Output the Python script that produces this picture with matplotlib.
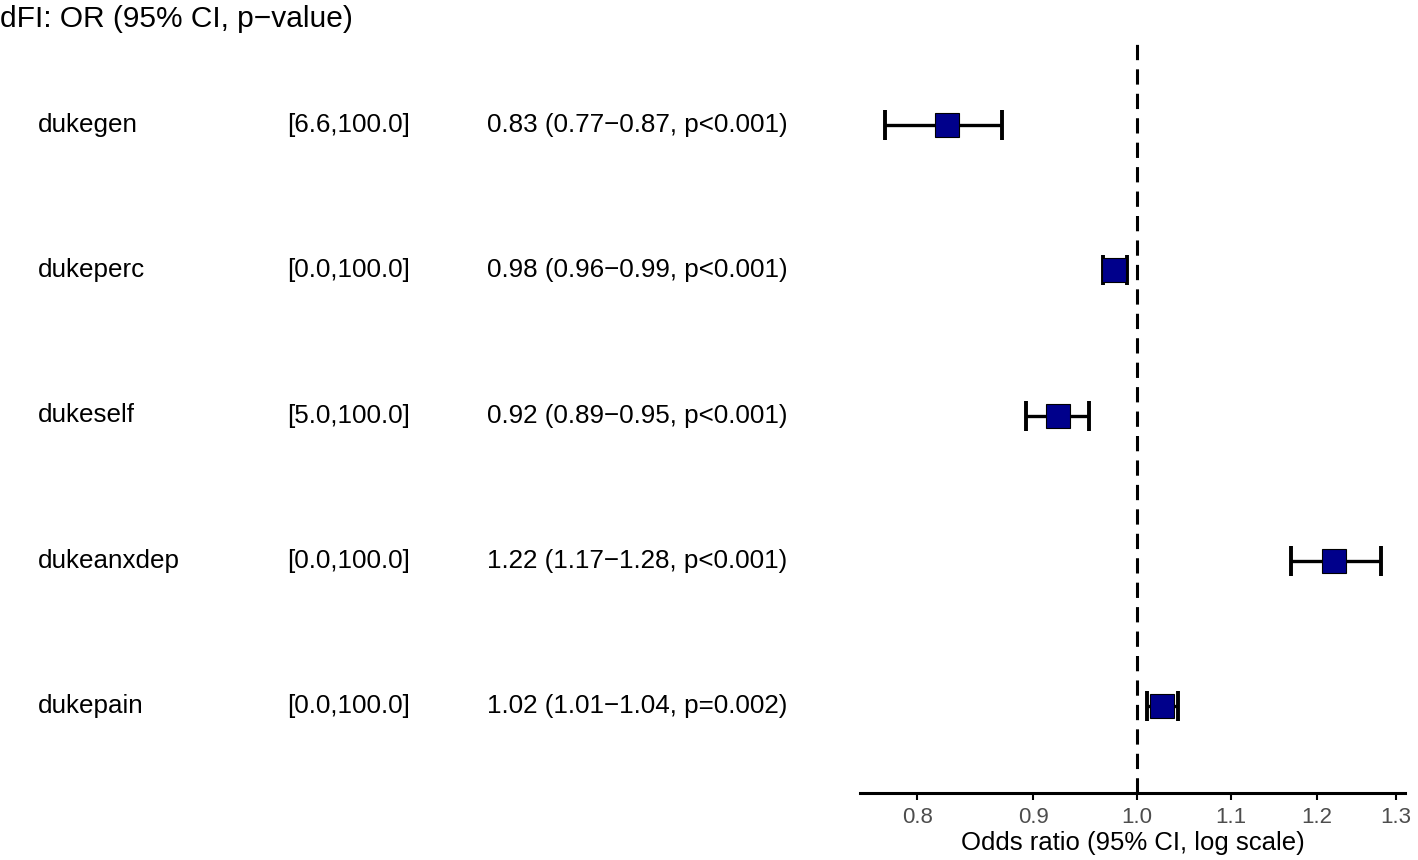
import numpy as np
import matplotlib.pyplot as plt
from matplotlib import transforms

plt.rcParams['font.family'] = ['Liberation Sans', 'DejaVu Sans']

# ── Data (point estimates, labels as printed) ───────────────────────────
variables = ['dukegen', 'dukeperc', 'dukeself', 'dukeanxdep', 'dukepain']
ranges = ['[6.6,100.0]', '[0.0,100.0]', '[5.0,100.0]', '[0.0,100.0]', '[0.0,100.0]']
odds = [0.825, 0.977, 0.923, 1.221, 1.026]
ci_low = [0.774, 0.966, 0.893, 1.169, 1.010]
ci_high = [0.872, 0.990, 0.952, 1.281, 1.042]
labels = ['0.83 (0.77\u22120.87, p<0.001)',
          '0.98 (0.96\u22120.99, p<0.001)',
          '0.92 (0.89\u22120.95, p<0.001)',
          '1.22 (1.17\u22121.28, p<0.001)',
          '1.02 (1.01\u22121.04, p=0.002)']
xticks = [0.8, 0.9, 1.0, 1.1, 1.2, 1.3]

rows = np.arange(len(variables), 0, -1)

# ── Figure ─────────────────────────────────────────────────────────────
fig = plt.figure(figsize=(14.18, 8.6), dpi=100)
ax = fig.add_axes([860 / 1418, 1 - 793 / 860, 545 / 1418, 755 / 860])

odds_a = np.array(odds)
err = [odds_a - np.array(ci_low), np.array(ci_high) - odds_a]
ax.errorbar(odds, rows, xerr=err, fmt='none', ecolor='black',
            elinewidth=2.4, capsize=10.5, capthick=2.8, zorder=2)
ax.plot(odds, rows, 's', markersize=17, markerfacecolor='#00008B',
        markeredgecolor='black', markeredgewidth=0.8, zorder=3)
ax.axvline(1.0, color='black', linestyle=(0, (5, 3)), linewidth=2.2, zorder=1)

ax.set_xscale('log')
ax.set_xlim(0.755, 1.312)
ax.set_ylim(0.4, 5.6)
ax.set_xticks(xticks)
ax.set_xticklabels([f"{t:.1f}" for t in xticks])
ax.minorticks_off()
ax.set_yticks([])
for s in ['top', 'right', 'left']:
    ax.spines[s].set_visible(False)
ax.spines['bottom'].set_linewidth(2.2)
ax.tick_params(axis='x', length=5, width=1.5, labelsize=16, labelcolor='#4D4D4D', pad=5)
ax.set_xlabel('Odds ratio (95% CI, log scale)', fontsize=18.5, labelpad=2)

# ── Table text ─────────────────────────────────────────────────────────
trans = transforms.blended_transform_factory(fig.transFigure, ax.transData)
for y, v, r, t in zip(rows, variables, ranges, labels):
    ax.text(38 / 1418, y, v, transform=trans, fontsize=18.7, va='center', ha='left')
    ax.text(287 / 1418, y, r, transform=trans, fontsize=18.7, va='center', ha='left')
    ax.text(487 / 1418, y, t, transform=trans, fontsize=18.7, va='center', ha='left')

fig.text(0.0, 1 - 19 / 860, 'dFI: OR (95% CI, p\u2212value)', fontsize=21.5,
         va='center', ha='left')

plt.savefig('out.png', dpi=100)
